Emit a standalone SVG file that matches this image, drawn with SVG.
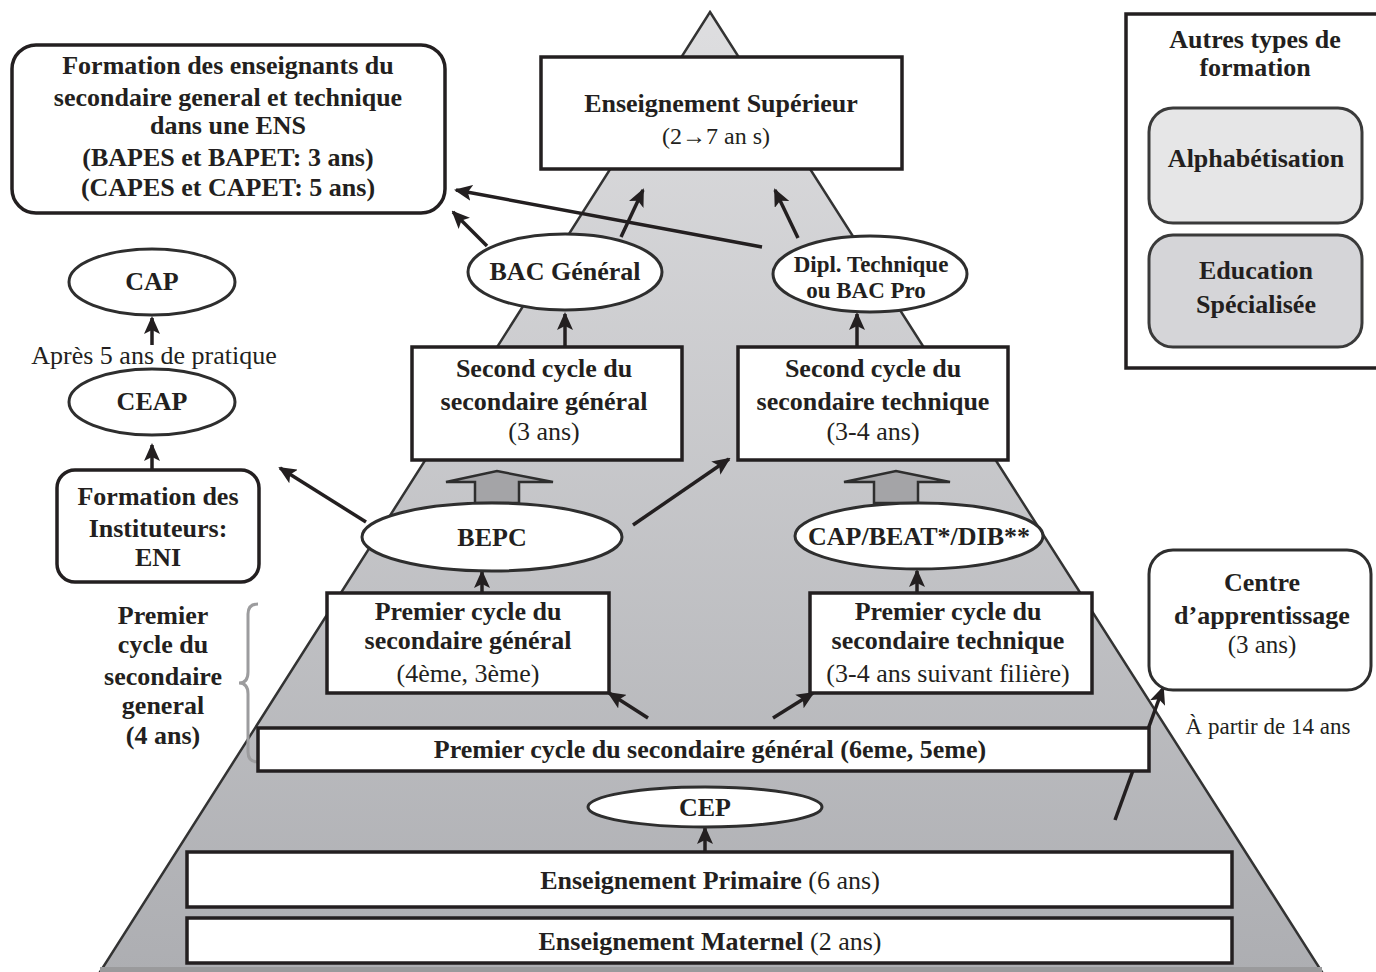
<svg xmlns="http://www.w3.org/2000/svg" width="1376" height="972" viewBox="0 0 1376 972">
<defs>
<linearGradient id="pyr" x1="0" y1="0" x2="0" y2="1">
<stop offset="0" stop-color="#dedee0"/>
<stop offset="1" stop-color="#adaeb2"/>
</linearGradient>
<marker id="ah" markerUnits="userSpaceOnUse" markerWidth="18" markerHeight="16" refX="16" refY="8" orient="auto">
<path d="M0,0 L18,8 L0,16 L4,8 Z" fill="#231f20"/>
</marker>
<style>
.t{font-family:"Liberation Serif","Times New Roman",serif;font-weight:bold;font-size:26px;fill:#231f20;text-anchor:middle}
.r{font-family:"Liberation Serif","Times New Roman",serif;font-size:25px;fill:#231f20;text-anchor:middle}
.n{font-weight:normal}
.box{fill:#fff;stroke:#231f20;stroke-width:3.5}
.ell{fill:#fff;stroke:#2e2e2e;stroke-width:3}
.c{stroke:#231f20;stroke-width:3.5;fill:none;marker-end:url(#ah)}
.blk{fill:#a4a4a7;stroke:#2e2e2e;stroke-width:2.5}
</style>
</defs>
<rect width="1376" height="972" fill="#fff"/>
<g id="pyramid">
<polygon points="710,12 1322,972 100,972" fill="url(#pyr)" stroke="#333" stroke-width="2.5"/>
<rect x="100" y="967" width="1222" height="5" fill="#9a9a9c"/>
</g>
<g id="connectors">
<line class="c" x1="487" y1="246" x2="453" y2="212"/>
<line class="c" x1="762" y1="247" x2="456" y2="190"/>
<line class="c" x1="621" y1="237" x2="643" y2="190"/>
<line class="c" x1="798" y1="238" x2="775" y2="190"/>
<line class="c" x1="565" y1="347" x2="565" y2="314"/>
<line class="c" x1="857" y1="347" x2="857" y2="314"/>
<line class="c" x1="152" y1="345" x2="152" y2="318"/>
<line class="c" x1="152" y1="470" x2="152" y2="445"/>
<line class="c" x1="366" y1="522" x2="280" y2="468"/>
<line class="c" x1="633" y1="525" x2="729" y2="459"/>
<line class="c" x1="482" y1="593" x2="482" y2="572"/>
<line class="c" x1="917" y1="593" x2="917" y2="571"/>
<line class="c" x1="648" y1="718" x2="609" y2="693"/>
<line class="c" x1="773" y1="718" x2="813" y2="693"/>
<line class="c" x1="705" y1="852" x2="705" y2="828"/>
<line class="c" x1="1115" y1="820" x2="1163" y2="688"/>
<polygon class="blk" points="475,503 475,482 446,482 497,471 553,482 519,482 519,503"/>
<polygon class="blk" points="874,503 874,482 844,482 896,471 950,482 918,482 918,503"/>
<path d="M258,604 Q248,604 248,614 L248,672 Q248,683 239,683 Q248,683 248,694 L248,752 Q248,762 258,762" fill="none" stroke="#9c9c9e" stroke-width="3"/>
</g>
<g id="n_ens">
<rect class="box" x="12" y="45" width="433" height="168" rx="24"/>
<text class="t" x="228" y="74">Formation des enseignants du</text>
<text class="t" x="228" y="106">secondaire general et technique</text>
<text class="t" x="228" y="134">dans une ENS</text>
<text class="t" x="228" y="166">(BAPES et BAPET: 3 ans)</text>
<text class="t" x="228" y="196">(CAPES et CAPET: 5 ans)</text>
</g>
<g id="n_sup">
<rect class="box" x="541" y="57" width="361" height="112"/>
<text class="t" x="721" y="112">Enseignement Supérieur</text>
<text class="t n" x="716" y="144" style="font-size:24px">(2→7 an s)</text>
</g>
<g id="n_legend">
<rect x="1126" y="14" width="262" height="354" fill="#fff" stroke="#231f20" stroke-width="3.5"/>
<text class="t" x="1255" y="48">Autres types de</text>
<text class="t" x="1255" y="76">formation</text>
</g>
<g id="n_alpha">
<rect x="1149" y="108" width="213" height="115" rx="24" fill="#e6e6e7" stroke="#3a3a3a" stroke-width="3"/>
<text class="t" x="1256" y="167">Alphabétisation</text>
</g>
<g id="n_edu">
<rect x="1149" y="235" width="213" height="112" rx="24" fill="#d5d5d8" stroke="#3a3a3a" stroke-width="3"/>
<text class="t" x="1256" y="279">Education</text>
<text class="t" x="1256" y="313">Spécialisée</text>
</g>
<g id="n_bacg">
<ellipse class="ell" cx="565" cy="272" rx="97" ry="38"/>
<text class="t" x="565" y="280">BAC Général</text>
</g>
<g id="n_dipl">
<ellipse class="ell" cx="870" cy="274" rx="97" ry="38"/>
<text class="t" x="871" y="272" style="font-size:23px">Dipl. Technique</text>
<text class="t" x="866" y="298" style="font-size:23px">ou BAC Pro</text>
</g>
<g id="n_cap">
<ellipse class="ell" cx="152" cy="282" rx="83" ry="33"/>
<text class="t" x="152" y="290">CAP</text>
</g>
<g id="n_apres">
<text class="r" x="154" y="364" style="font-size:26px">Après 5 ans de pratique</text>
</g>
<g id="n_ceap">
<ellipse class="ell" cx="152" cy="402" rx="83" ry="33"/>
<text class="t" x="152" y="410">CEAP</text>
</g>
<g id="n_eni">
<rect class="box" x="57" y="470" width="202" height="112" rx="18"/>
<text class="t" x="158" y="505">Formation des</text>
<text class="t" x="158" y="537">Instituteurs:</text>
<text class="t" x="158" y="566">ENI</text>
</g>
<g id="n_2g">
<rect class="box" x="412" y="347" width="270" height="113"/>
<text class="t" x="544" y="377">Second cycle du</text>
<text class="t" x="544" y="410">secondaire général</text>
<text class="t n" x="544" y="440">(3 ans)</text>
</g>
<g id="n_2t">
<rect class="box" x="738" y="347" width="270" height="113"/>
<text class="t" x="873" y="377">Second cycle du</text>
<text class="t" x="873" y="410">secondaire technique</text>
<text class="t n" x="873" y="440">(3-4 ans)</text>
</g>
<g id="n_bepc">
<ellipse class="ell" cx="492" cy="537" rx="130" ry="34"/>
<text class="t" x="492" y="546">BEPC</text>
</g>
<g id="n_capbeat">
<ellipse class="ell" cx="919" cy="536" rx="124" ry="33"/>
<text class="t" x="919" y="545">CAP/BEAT*/DIB**</text>
</g>
<g id="n_1g">
<rect class="box" x="327" y="593" width="282" height="100"/>
<text class="t" x="468" y="620">Premier cycle du</text>
<text class="t" x="468" y="649">secondaire général</text>
<text class="t n" x="468" y="682">(4ème, 3ème)</text>
</g>
<g id="n_1t">
<rect class="box" x="810" y="593" width="282" height="100"/>
<text class="t" x="948" y="620">Premier cycle du</text>
<text class="t" x="948" y="649">secondaire technique</text>
<text class="t n" x="948" y="682">(3-4 ans suivant filière)</text>
</g>
<g id="n_brace">
<text class="t" x="163" y="624">Premier</text>
<text class="t" x="163" y="653">cycle du</text>
<text class="t" x="163" y="685">secondaire</text>
<text class="t" x="163" y="714">general</text>
<text class="t" x="163" y="744">(4 ans)</text>
</g>
<g id="n_bar">
<rect class="box" x="258" y="728" width="891" height="43"/>
<text class="t" x="710" y="758">Premier cycle du secondaire général (6eme, 5eme)</text>
</g>
<g id="n_centre">
<rect x="1149" y="550" width="222" height="140" rx="24" fill="#fff" stroke="#2e2e2e" stroke-width="3"/>
<text class="t" x="1262" y="591">Centre</text>
<text class="t" x="1262" y="624">d’apprentissage</text>
<text class="r" x="1262" y="653">(3 ans)</text>
</g>
<g id="n_14">
<text class="r" x="1268" y="734" style="font-size:23px">À partir de 14 ans</text>
</g>
<g id="n_cep">
<ellipse class="ell" cx="705" cy="807" rx="117" ry="20"/>
<text class="t" x="705" y="816">CEP</text>
</g>
<g id="n_prim">
<rect class="box" x="187" y="852" width="1045" height="55"/>
<text class="t" x="710" y="889">Enseignement Primaire <tspan class="n">(6 ans)</tspan></text>
</g>
<g id="n_mat">
<rect class="box" x="187" y="918" width="1045" height="45"/>
<text class="t" x="710" y="950">Enseignement Maternel <tspan class="n">(2 ans)</tspan></text>
</g>
</svg>
